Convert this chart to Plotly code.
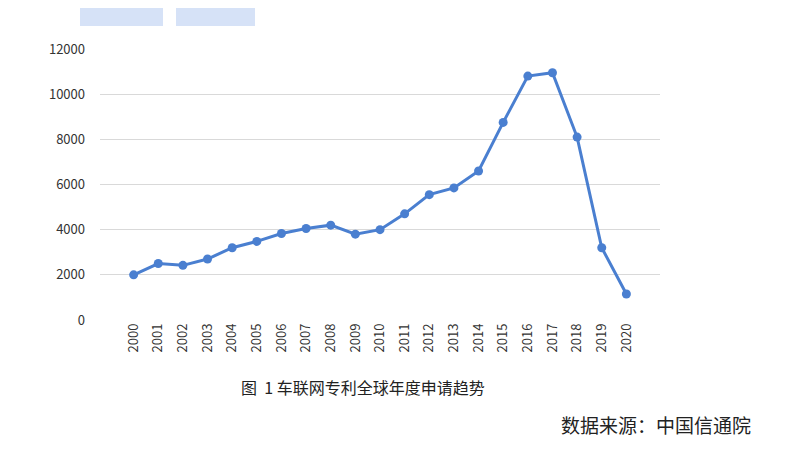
import plotly.graph_objects as go

years = [str(y) for y in range(2000, 2021)]
values = [2000, 2500, 2420, 2700, 3200, 3480, 3830, 4050, 4200, 3800, 4000,
          4700, 5550, 5850, 6600, 8750, 10800, 10950, 8100, 3200, 1150]
y_ticks = [0, 2000, 4000, 6000, 8000, 10000, 12000]

fig = go.Figure(go.Scatter(
    x=years, y=values, mode="lines+markers",
    line=dict(color="#4a7fd0", width=3),
    marker=dict(color="#4a7fd0", size=9),
))
fig.update_layout(
    width=786, height=450, paper_bgcolor="white", plot_bgcolor="white",
    margin=dict(l=92, r=134, t=41, b=138, autoexpand=False), showlegend=False,
    font=dict(family="Noto Sans CJK SC", color="#333", size=13),
    xaxis=dict(type="category", tickangle=-90, showgrid=False, showline=False,
               ticks="", tickfont=dict(size=13), automargin=False),
    yaxis=dict(range=[0, 12000], tickvals=y_ticks, ticktext=[str(v) for v in y_ticks],
               gridcolor="#d9d9d9", zeroline=False, showline=False,
               tickfont=dict(size=13), automargin=False, ticklabelstandoff=14),
    shapes=[
        dict(type="rect", xref="paper", yref="paper", x0=-20/560, x1=63/560,
             y0=1+23/271, y1=1+41/271, fillcolor="#d6e2f7", line_width=0),
        dict(type="rect", xref="paper", yref="paper", x0=76/560, x1=155/560,
             y0=1+23/271, y1=1+41/271, fillcolor="#d6e2f7", line_width=0),
    ],
    annotations=[
        dict(text="图  1 车联网专利全球年度申请趋势", xref="paper", yref="paper",
             x=263/560, y=-81/271, showarrow=False, xanchor="center",
             font=dict(size=16, color="#222")),
        dict(text="数据来源：中国信通院", xref="paper", yref="paper",
             x=653/560, y=-120/271, showarrow=False, xanchor="right",
             font=dict(size=19, color="#222")),
    ],
)
fig.write_html("out.html")
